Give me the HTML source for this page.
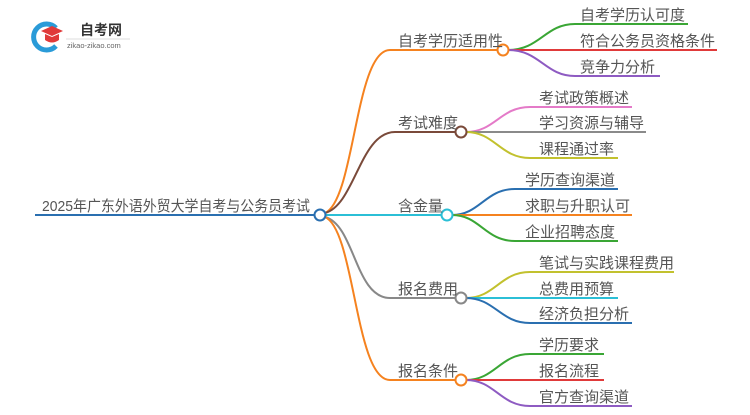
<!DOCTYPE html>
<html><head><meta charset="utf-8"><style>
body{margin:0;background:#fff}
text{font-family:"Liberation Sans","Noto Sans CJK SC",sans-serif;font-size:15px;fill:#555}
</style></head><body>
<svg width="750" height="410" viewBox="0 0 750 410" xmlns="http://www.w3.org/2000/svg">
<g fill="none" stroke-width="2">
<line x1="35" y1="215" x2="315" y2="215" stroke="#2a6fb0"/>
<path d="M325 213 C355 200,355 50,390 50 L498 50" stroke="#f5821f"/>
<path d="M325 213 C355 205,360 132,395 132 L456 132" stroke="#7a4a3a"/>
<path d="M325 215 L442 215" stroke="#2bbfd6"/>
<path d="M325 217 C355 225,355 298,390 298 L456 298" stroke="#888"/>
<path d="M325 217 C355 230,355 380,390 380 L456 380" stroke="#f5821f"/>
<path d="M508 50 C540 50,545 24,575 24 L688 24" stroke="#3aa635"/>
<path d="M508 50 L717 50" stroke="#e03a3a"/>
<path d="M508 50 C540 50,545 76,575 76 L660 76" stroke="#8e5bc2"/>
<path d="M466 132 C495 132,500 107,530 107 L632 107" stroke="#e47ac8"/>
<path d="M466 132 L646 132" stroke="#8a8a8a"/>
<path d="M466 132 C495 132,500 158,530 158 L618 158" stroke="#c2c12e"/>
<path d="M452 215 C480 215,485 189,515 189 L618 189" stroke="#2a6fb0"/>
<path d="M452 215 L632 215" stroke="#f5821f"/>
<path d="M452 215 C480 215,485 241,515 241 L618 241" stroke="#3aa635"/>
<path d="M466 298 C495 298,500 272,530 272 L674 272" stroke="#c2c12e"/>
<path d="M466 298 L618 298" stroke="#2bbfd6"/>
<path d="M466 298 C495 298,500 323,530 323 L632 323" stroke="#2a6fb0"/>
<path d="M466 380 C495 380,500 354,530 354 L604 354" stroke="#3aa635"/>
<path d="M466 380 L604 380" stroke="#e03a3a"/>
<path d="M466 380 C495 380,500 406,530 406 L632 406" stroke="#8e5bc2"/>
</g>
<g fill="#fff" stroke-width="2">
<circle cx="320" cy="215" r="5.5" stroke="#2a6fb0"/>
<circle cx="503" cy="50" r="5.5" stroke="#f5821f"/>
<circle cx="461" cy="132" r="5.5" stroke="#7a4a3a"/>
<circle cx="447" cy="215" r="5.5" stroke="#2bbfd6"/>
<circle cx="461" cy="298" r="5.5" stroke="#888"/>
<circle cx="461" cy="380" r="5.5" stroke="#f5821f"/>
</g>
<text x="42" y="211" textLength="268" lengthAdjust="spacingAndGlyphs" style="font-size:15px">2025年广东外语外贸大学自考与公务员考试</text>
<text x="398" y="46">自考学历适用性</text>
<text x="398" y="128">考试难度</text>
<text x="398" y="211">含金量</text>
<text x="398" y="294">报名费用</text>
<text x="398" y="376">报名条件</text>
<text x="580" y="20">自考学历认可度</text>
<text x="580" y="46">符合公务员资格条件</text>
<text x="580" y="72">竞争力分析</text>
<text x="539" y="103">考试政策概述</text>
<text x="539" y="128">学习资源与辅导</text>
<text x="539" y="154">课程通过率</text>
<text x="525" y="185">学历查询渠道</text>
<text x="525" y="211">求职与升职认可</text>
<text x="525" y="237">企业招聘态度</text>
<text x="539" y="268">笔试与实践课程费用</text>
<text x="539" y="294">总费用预算</text>
<text x="539" y="319">经济负担分析</text>
<text x="539" y="350">学历要求</text>
<text x="539" y="376">报名流程</text>
<text x="539" y="402">官方查询渠道</text>
<path d="M56 28 A13 13 0 1 0 56 46" fill="none" stroke="#2a9bd8" stroke-width="5"/>
<polygon points="41,31 52,26 63,31 52,36" fill="#e03a3a"/>
<path d="M45 34 L45 40 Q52 45 59 40 L59 34 L52 37 Z" fill="#e03a3a"/>
<text x="80" y="35" style="font-size:14px;font-weight:bold;fill:#333">自考网</text>
<line x1="66" y1="39" x2="130" y2="39" stroke="#ddd" stroke-width="1"/>
<text x="67" y="48" style="font-size:7.5px;fill:#666">zikao-zikao.com</text>
</svg>
</body></html>
